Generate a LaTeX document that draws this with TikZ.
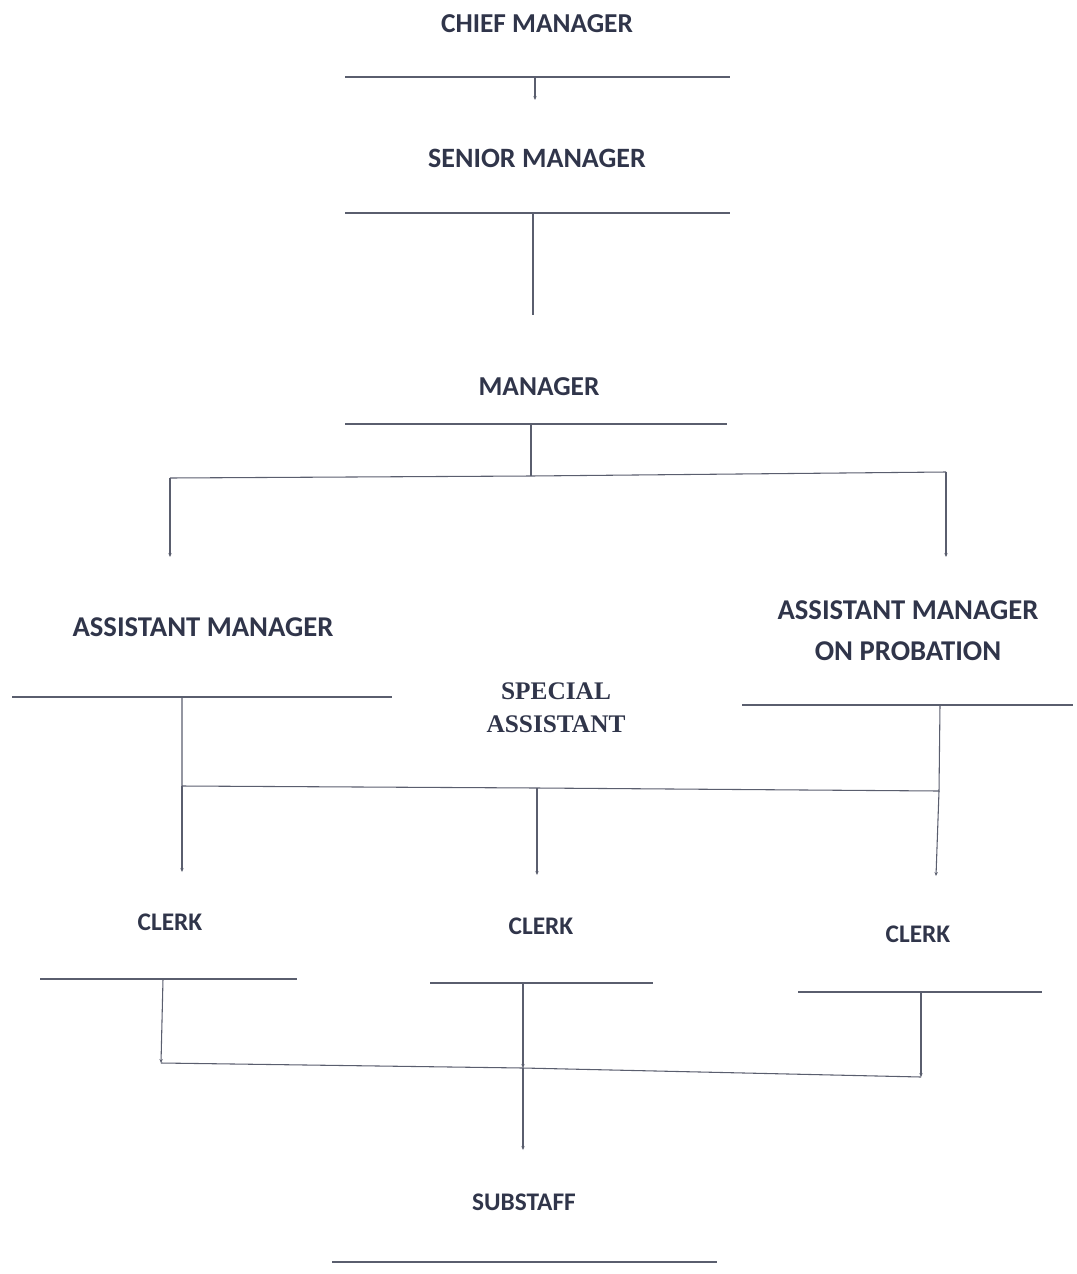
\documentclass[tikz,border=0pt]{standalone}
\usepackage{fontspec}
\setmainfont{Carlito}
\newfontfamily\serifbold{Liberation Serif}
\usetikzlibrary{arrows.meta}

\definecolor{inkText}{HTML}{30354A}
\definecolor{inkLine}{HTML}{5A5E6E}

\tikzset{
  rank/.style={text=inkText,font=\fontsize{20.5}{24}\selectfont\bfseries,align=center,inner sep=0pt},
  small rank/.style={rank,font=\fontsize{19}{23}\selectfont\bfseries},
  base line/.style={draw=inkLine,line width=1.2pt},
  link/.style={draw=inkLine,line width=0.8pt},
  drop/.style={link,-{Stealth[length=3pt,width=2.5pt]}}
}

\begin{document}
\begin{tikzpicture}[x=0.75pt,y=-0.75pt]
	    % Fix the page to the size of the reference
	    \useasboundingbox (0,0) rectangle (1076,1274);

	    % Chief manager and senior manager
	    \node [rank] (chief) at (537,24) {CHIEF MANAGER};
	    \draw [base line] (345,77) coordinate (chief l) -- (730,77) coordinate (chief r);
	    \coordinate (chief foot) at (535,77);
	    \node [rank,font=\fontsize{21}{24}\selectfont\bfseries] (senior) at (537,158) {SENIOR MANAGER};
	    \coordinate (senior head) at (535,100);
	    \draw [drop] (chief foot) -- (senior head);
	    \draw [base line] (345,213) coordinate (senior l) -- (730,213) coordinate (senior r);
	    \coordinate (senior foot) at (533,213);

	    % Manager
	    \coordinate (manager head) at (533,315);
	    \draw [link] (senior foot) -- (manager head);
	    \node [rank] (manager) at (539,387) {MANAGER};
	    \draw [base line] (345,424) coordinate (manager l) -- (727,424) coordinate (manager r);
	    \coordinate (manager foot) at (531,424);

	    % Split towards the two assistant managers
	    \coordinate (split m) at (531,476);
	    \coordinate (split l) at (170,478);
	    \coordinate (split r) at (946,472);
	    \coordinate (am head) at (170,557);
	    \coordinate (amp head) at (946,557);
	    \draw [link] (manager foot) -- (split m);
	    \draw [link] (split l) -- (split m) -- (split r);
	    \draw [drop] (split l) -- (am head);
	    \draw [drop] (split r) -- (amp head);

	    % Assistant managers and special assistant
	    \node [rank,font=\fontsize{21.5}{31}\selectfont\bfseries] (am) at (203,627) {ASSISTANT MANAGER};
	    \draw [base line] (12,697) coordinate (am l) -- (392,697) coordinate (am r);
	    \node [rank,font=\fontsize{21.5}{31}\selectfont\bfseries] (amp) at (908,631) {ASSISTANT MANAGER\\ON PROBATION};
	    \draw [base line] (742,705) coordinate (amp l) -- (1073,705) coordinate (amp r);
	    \node [rank,font=\fontsize{19}{25}\selectfont\serifbold\bfseries] (special) at (556,708) {SPECIAL\\ASSISTANT};

	    % Bus towards the clerks
	    \coordinate (am foot) at (182,697);
	    \coordinate (amp foot) at (940,705);
	    \coordinate (bus l) at (182,786);
	    \coordinate (bus m) at (537,788);
	    \coordinate (bus r) at (939,791);
	    \draw [link] (am foot) -- (bus l) -- (bus m) -- (bus r) -- (amp foot);
	    \coordinate (clerk a head) at (182,872);
	    \coordinate (clerk b head) at (537,875);
	    \coordinate (clerk c head) at (936,876);
	    \draw [drop] (bus l) -- (clerk a head);
	    \draw [drop] (bus m) -- (clerk b head);
	    \draw [drop] (bus r) -- (clerk c head);

	    % Clerks
	    \node [small rank] (clerk a) at (170,922) {CLERK};
	    \draw [base line] (40,979) coordinate (clerk a l) -- (297,979) coordinate (clerk a r);
	    \node [small rank] (clerk b) at (541,926) {CLERK};
	    \draw [base line] (430,983) coordinate (clerk b l) -- (653,983) coordinate (clerk b r);
	    \node [small rank] (clerk c) at (918,934) {CLERK};
	    \draw [base line] (798,992) coordinate (clerk c l) -- (1042,992) coordinate (clerk c r);

	    % Collect the clerks towards the substaff
	    \coordinate (clerk a foot) at (163,979);
	    \coordinate (clerk b foot) at (523,983);
	    \coordinate (clerk c foot) at (921,992);
	    \coordinate (join l) at (161,1063);
	    \coordinate (join m) at (523,1068);
	    \coordinate (join r) at (921,1077);
	    \draw [drop] (clerk a foot) -- (join l);
	    \draw [drop] (clerk b foot) -- (join m);
	    \draw [drop] (clerk c foot) -- (join r);
	    \draw [link] (join l) -- (join m) -- (join r);
	    \coordinate (sub head) at (523,1150);
	    \draw [drop] (join m) -- (sub head);

	    % Substaff
	    \node [small rank] (sub) at (524,1202) {SUBSTAFF};
	    \draw [base line] (332,1262) coordinate (sub l) -- (717,1262) coordinate (sub r);
	\end{tikzpicture}
\end{document}
